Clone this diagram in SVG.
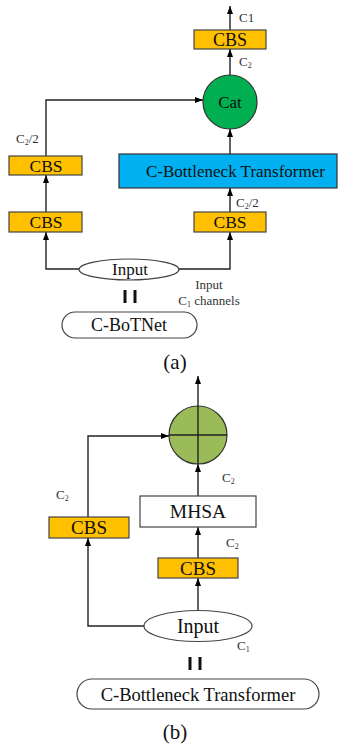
<svg xmlns="http://www.w3.org/2000/svg" width="339" height="748" viewBox="0 0 339 748">
<defs>
<marker id="arr" markerUnits="userSpaceOnUse" markerWidth="8" markerHeight="8" viewBox="0 0 8 6" refX="8" refY="3" orient="auto">
<path d="M0,0 L8,3 L0,6 z" fill="#000"/>
</marker>
<style>
text{font-family:"Liberation Serif","Times New Roman",serif;fill:#111;}
.cbs{fill:#ffc000;stroke:#444;stroke-width:1.2;}
.ln{fill:none;stroke:#222;stroke-width:1.4;marker-end:url(#arr);}
.pl{fill:none;stroke:#222;stroke-width:1.4;}
.box{fill:#fff;stroke:#444;stroke-width:1.2;}
.sm{font-size:13px;fill:#333;}
.sub{font-size:8px;}
.lbl{text-anchor:middle;}
.bar{stroke:#111;stroke-width:3;}
</style>
</defs>

<g id="connectors">
<!-- (a) -->
<line class="ln" x1="230" y1="30" x2="230" y2="6"/>
<line class="ln" x1="230" y1="76" x2="230" y2="49"/>
<path class="ln" d="M46,156 V100 H203"/>
<line class="ln" x1="46" y1="212" x2="46" y2="175"/>
<line class="ln" x1="230" y1="154" x2="230" y2="129"/>
<line class="ln" x1="230" y1="212" x2="230" y2="188"/>
<path class="ln" d="M79,269 H46 V232"/>
<path class="ln" d="M179,269 H230 V232"/>
<!-- (b) -->
<line class="ln" x1="198" y1="406" x2="198" y2="376"/>
<path class="ln" d="M88,517 V436 H169"/>
<line class="ln" x1="198" y1="496" x2="198" y2="464"/>
<line class="ln" x1="198" y1="558" x2="198" y2="527"/>
<path class="ln" d="M144,626 H88 V538"/>
<line class="ln" x1="198" y1="610" x2="198" y2="578"/>
</g>

<!-- (a) nodes -->
<g id="cbs-top">
<rect class="cbs" x="194" y="30" width="72" height="19"/>
<text class="lbl" x="230" y="45.5" font-size="18">CBS</text>
</g>
<g id="cat">
<circle cx="230" cy="102" r="27" fill="#00b050" stroke="#333" stroke-width="1.2"/>
<text class="lbl" x="230" y="108" font-size="17">Cat</text>
</g>
<g id="cbs-left1">
<rect class="cbs" x="9" y="156" width="73" height="19"/>
<text class="lbl" x="46" y="171.5" font-size="17.5">CBS</text>
</g>
<g id="cbs-left2">
<rect class="cbs" x="9" y="212" width="73" height="20"/>
<text class="lbl" x="46" y="228" font-size="17.5">CBS</text>
</g>
<g id="cbt-box">
<rect x="119" y="154" width="218" height="34" fill="#00b0f0" stroke="#333" stroke-width="1.2"/>
<text class="lbl" x="235.5" y="177" font-size="17">C-Bottleneck Transformer</text>
</g>
<g id="cbs-right">
<rect class="cbs" x="194" y="212" width="72" height="20"/>
<text class="lbl" x="230" y="228" font-size="17.5">CBS</text>
</g>
<g id="input-a">
<ellipse class="box" cx="129" cy="269.5" rx="50" ry="10.5"/>
<text class="lbl" x="130" y="275" font-size="17">Input</text>
</g>
<g id="equals-a">
<line class="bar" x1="125" y1="290" x2="125" y2="303"/>
<line class="bar" x1="135" y1="290" x2="135" y2="303"/>
</g>
<g id="cbotnet">
<rect class="box" x="62" y="312" width="135" height="26" rx="13"/>
<text class="lbl" x="129" y="331" font-size="18">C-BoTNet</text>
</g>
<g id="labels-a">
<text class="sm" x="239" y="22">C1</text>
<text class="sm" x="239" y="66">C<tspan class="sub" dy="2">2</tspan></text>
<text class="sm" x="16" y="143">C<tspan class="sub" dy="2">2</tspan><tspan dy="-2">/2</tspan></text>
<text class="sm" x="236" y="207">C<tspan class="sub" dy="2">2</tspan><tspan dy="-2">/2</tspan></text>
<text class="sm lbl" x="209" y="289">Input</text>
<text class="sm lbl" x="209" y="305">C<tspan class="sub" dy="2">1</tspan><tspan dy="-2"> channels</tspan></text>
<text class="lbl" x="175" y="369" font-size="21">(a)</text>
</g>

<!-- (b) nodes -->
<g id="add">
<circle cx="198" cy="435" r="29" fill="#9bbb59" stroke="#333" stroke-width="1.2"/>
<line class="pl" x1="198" y1="406" x2="198" y2="464"/>
<line class="pl" x1="169" y1="435" x2="227" y2="435"/>
</g>
<g id="cbs-b-left">
<rect class="cbs" x="49" y="517" width="80" height="21"/>
<text class="lbl" x="89" y="534" font-size="19">CBS</text>
</g>
<g id="mhsa">
<rect class="box" x="140" y="496" width="116" height="31"/>
<text class="lbl" x="198" y="518" font-size="19.5">MHSA</text>
</g>
<g id="cbs-b-right">
<rect class="cbs" x="158" y="558" width="80" height="20"/>
<text class="lbl" x="198" y="575" font-size="19">CBS</text>
</g>
<g id="input-b">
<ellipse class="box" cx="198" cy="626" rx="54" ry="15.5"/>
<text class="lbl" x="198" y="633" font-size="20">Input</text>
</g>
<g id="equals-b">
<line class="bar" x1="190" y1="657" x2="190" y2="670"/>
<line class="bar" x1="200" y1="657" x2="200" y2="670"/>
</g>
<g id="cbt-b">
<rect class="box" x="77" y="679" width="242" height="30" rx="15"/>
<text class="lbl" x="198" y="701" font-size="18.5">C-Bottleneck Transformer</text>
</g>
<g id="labels-b">
<text class="sm" x="56" y="499">C<tspan class="sub" dy="2">2</tspan></text>
<text class="sm" x="222" y="482">C<tspan class="sub" dy="2">2</tspan></text>
<text class="sm" x="226" y="547">C<tspan class="sub" dy="2">2</tspan></text>
<text class="sm" x="237" y="650">C<tspan class="sub" dy="2">1</tspan></text>
<text class="lbl" x="175" y="739" font-size="21">(b)</text>
</g>
</svg>
